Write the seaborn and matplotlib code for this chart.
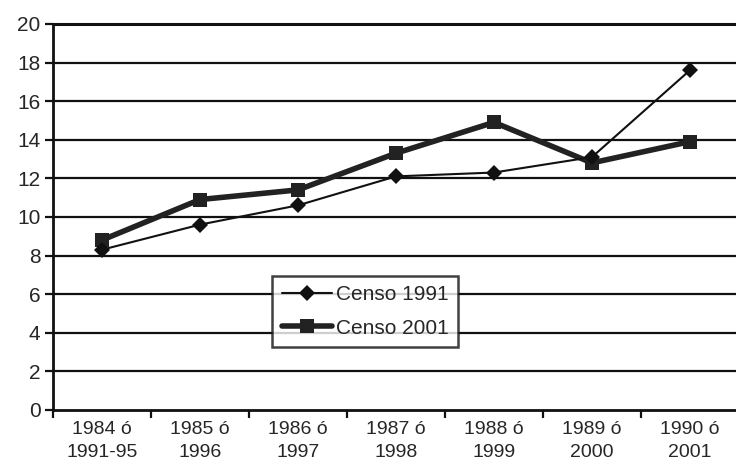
import numpy as np
import pandas as pd
import matplotlib
matplotlib.use("Agg")
import matplotlib.pyplot as plt
import seaborn as sns

categories = ["1984 ó\n1991-95", "1985 ó\n1996", "1986 ó\n1997", "1987 ó\n1998",
              "1988 ó\n1999", "1989 ó\n2000", "1990 ó\n2001"]
censo_1991 = [8.3, 9.6, 10.6, 12.1, 12.3, 13.1, 17.6]
censo_2001 = [8.8, 10.9, 11.4, 13.3, 14.9, 12.8, 13.9]

sns.set_style("white")
plt.rcParams["font.family"] = ["Liberation Sans", "DejaVu Sans"]

x = np.arange(len(categories))
df1 = pd.DataFrame({"x": x, "y": censo_1991})
df2 = pd.DataFrame({"x": x, "y": censo_2001})

fig = plt.figure(figsize=(7.36, 4.69), dpi=100)
ax = fig.add_axes([0.072, 0.126, 0.932, 0.823])

# gridlines (black, like the original spreadsheet chart)
for v in range(2, 21, 2):
    ax.axhline(v, color="#111111", lw=2.2 if v == 20 else 1.6, zorder=1, clip_on=False)

sns.lineplot(data=df1, x="x", y="y", ax=ax, color="#111111", lw=1.5,
             marker="D", markersize=8, markeredgewidth=0, label="Censo 1991", zorder=3)
sns.lineplot(data=df2, x="x", y="y", ax=ax, color="#222222", lw=4,
             marker="s", markersize=10, markeredgewidth=0, label="Censo 2001", zorder=2)

ax.set_xlim(-0.5, len(categories) - 0.5)
ax.set_ylim(0, 20)
ax.set_yticks(range(0, 21, 2))
ax.set_xticks(np.arange(len(categories) + 1) - 0.5)
ax.set_xticklabels([])
ax.set_xticks(x, minor=True)
ax.set_xticklabels(categories, minor=True, linespacing=1.45)
ax.tick_params(axis="x", which="minor", length=0, pad=8, labelsize=14)
ax.tick_params(axis="x", which="major", direction="out", length=6, width=1.6,
               color="#111111", bottom=True)
ax.tick_params(axis="y", direction="out", length=6, width=1.6, color="#111111",
               left=True, labelsize=15, pad=3)
ax.set_xlabel("")
ax.set_ylabel("")

for s in ["top", "right"]:
    ax.spines[s].set_visible(False)
for s in ["left", "bottom"]:
    ax.spines[s].set_color("#111111")
    ax.spines[s].set_linewidth(2)

leg = ax.legend(loc="lower left", bbox_to_anchor=(0.32, 0.163), fontsize=15,
                frameon=True, fancybox=False, edgecolor="#111111",
                handlelength=2.4, borderpad=0.45, labelspacing=0.7,
                handletextpad=0.2, borderaxespad=0)
leg.get_frame().set_linewidth(1.8)
leg.set_zorder(5)

fig.savefig("out.png", dpi=100)
